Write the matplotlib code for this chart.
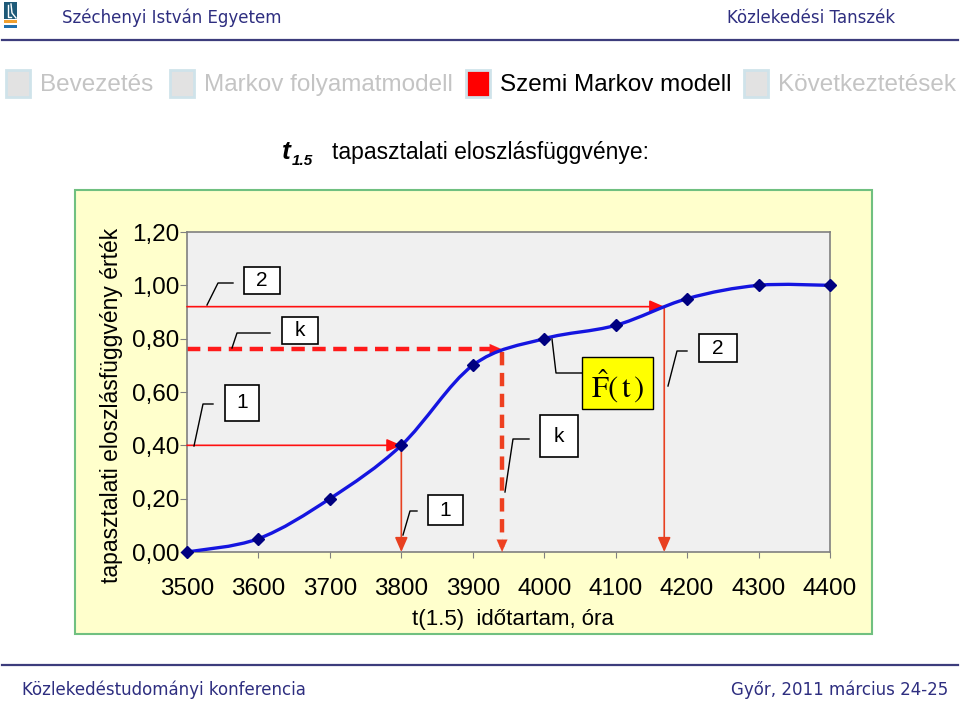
import numpy as np
import matplotlib.pyplot as plt
from matplotlib.patches import Rectangle, PathPatch
from matplotlib.path import Path
from matplotlib.lines import Line2D

# empirical distribution of t(1.5)
hours = [3500, 3600, 3700, 3800, 3900, 4000, 4100, 4200, 4300, 4400]
cdf = [0.00, 0.05, 0.20, 0.40, 0.70, 0.80, 0.85, 0.95, 1.00, 1.00]

# guide lines: (level, time)
guide_1 = (0.40, 3800)
guide_k = (0.76, 3941)
guide_2 = (0.92, 4168)

y_ticks = [0.0, 0.2, 0.4, 0.6, 0.8, 1.0, 1.2]
y_tick_labels = ['0,00', '0,20', '0,40', '0,60', '0,80', '1,00', '1,20']
x_ticks = [3500, 3600, 3700, 3800, 3900, 4000, 4100, 4200, 4300, 4400]

nav_items = ['Bevezetés', 'Markov folyamatmodell', 'Szemi Markov modell', 'Következtetések']
nav_active = 2

W, H = 960, 706
SANS = 'Liberation Sans'
HEAD = 'DejaVu Sans'
NAVY = '#2E2E80'


def fx(px):
    return px / W


def fy(py):
    return 1 - py / H


def smooth_path(xs, ys):
    """Bezier path through the points, like Excel's smoothed line."""
    pts = np.column_stack([xs, ys]).astype(float)
    verts = [pts[0]]
    codes = [Path.MOVETO]
    n = len(pts)
    for i in range(n - 1):
        p0 = pts[max(i - 1, 0)]
        p1 = pts[i]
        p2 = pts[i + 1]
        p3 = pts[min(i + 2, n - 1)]
        verts += [p1 + (p2 - p0) / 6, p2 - (p3 - p1) / 6, p2]
        codes += [Path.CURVE4] * 3
    return Path(verts, codes)


fig = plt.figure(figsize=(W / 100, H / 100), dpi=100)

# ---- header ----
fig.add_artist(Rectangle((fx(4), fy(19)), 13 / W, 17 / H, transform=fig.transFigure,
                         facecolor='#1F5A78', edgecolor='none'))
fig.add_artist(Line2D([fx(8), fx(8), fx(11)], [fy(5), fy(17), fy(17)], transform=fig.transFigure,
                      color='white', lw=1))
fig.add_artist(Line2D([fx(11), fx(12), fx(16)], [fy(4), fy(13), fy(18)], transform=fig.transFigure,
                      color='white', lw=1))
fig.add_artist(Rectangle((fx(4), fy(22.5)), 13 / W, 2 / H, transform=fig.transFigure,
                         facecolor='#F0A030', edgecolor='none'))
fig.add_artist(Rectangle((fx(4), fy(28)), 13 / W, 3 / H, transform=fig.transFigure,
                         facecolor='#2070B0', edgecolor='none'))

fig.text(fx(62), fy(18), 'Széchenyi István Egyetem', family=HEAD, fontsize=12,
         color=NAVY, va='center', ha='left')
fig.text(fx(895), fy(18), 'Közlekedési Tanszék', family=HEAD, fontsize=12,
         color=NAVY, va='center', ha='right')
fig.add_artist(Line2D([fx(2), fx(958)], [fy(40), fy(40)], transform=fig.transFigure,
                      color='#3C3C7C', lw=1.6))

# ---- navigation ----
nav_sq = [6, 170, 466, 744]
for i, (label, sx) in enumerate(zip(nav_items, nav_sq)):
    active = i == nav_active
    fig.add_artist(Rectangle((fx(sx), fy(97)), 24 / W, 27 / H, transform=fig.transFigure,
                             facecolor='#FF0000' if active else '#E2E2E2',
                             edgecolor='#CFE3EA', lw=2))
    fig.text(fx(sx + 34), fy(85), label, family=SANS, fontsize=17.5,
             color='black' if active else '#C4C4C4', va='center', ha='left')

# ---- title ----
fig.text(fx(282), fy(152), 't', family=SANS, fontsize=19, weight='bold', style='italic',
         va='center', ha='left')
fig.text(fx(292), fy(161), '1.5', family=SANS, fontsize=11, weight='bold', style='italic',
         va='center', ha='left')
fig.text(fx(332), fy(153), 'tapasztalati eloszlásfüggvénye:', family=SANS, fontsize=16.5,
         va='center', ha='left')

# ---- chart area ----
fig.add_artist(Rectangle((fx(75), fy(634)), 797 / W, 444 / H, transform=fig.transFigure,
                         facecolor='#FFFFCC', edgecolor='#70C080', lw=1.5, zorder=0))

ax = fig.add_axes([fx(187), fy(552), 643 / W, 320 / H])
ax.set_facecolor('#F0F0F0')
for s in ax.spines.values():
    s.set_color('#808080')
    s.set_linewidth(1.2)
ax.set_xlim(3500, 4400)
ax.set_ylim(0, 1.2)
ax.set_xticks(x_ticks)
ax.set_xticklabels([str(v) for v in x_ticks], family=SANS, fontsize=17.5)
ax.set_yticks(y_ticks)
ax.set_yticklabels(y_tick_labels, family=SANS, fontsize=17.5)
ax.tick_params(axis='x', length=4, color='#808080', pad=15)
ax.tick_params(axis='y', length=5, color='#808080', pad=0.5)

fig.text(fx(112), fy(405), 'tapasztalati eloszlásfüggvény érték', family=SANS, fontsize=16.5,
         rotation=90, va='center', ha='center')
fig.text(fx(513), fy(620), 't(1.5)  időtartam, óra', family=SANS, fontsize=16,
         va='center', ha='center')

# red guide lines
arrow = dict(arrowstyle='-|>,head_length=0.8,head_width=0.35', shrinkA=0, shrinkB=0,
             mutation_scale=11)
for level, t in [guide_1, guide_2]:
    ax.annotate('', xy=(t, level), xytext=(3500, level),
                arrowprops=dict(color='#FF1010', lw=1.2, **arrow))
    ax.annotate('', xy=(t, 0), xytext=(t, level),
                arrowprops=dict(color='#E84020', lw=1.2, **arrow))

lvl, tk = guide_k
ax.plot([3500, tk - 12], [lvl, lvl], color='#FF1A1A', lw=3.2, dashes=(3, 1.7))
ax.plot([tk, tk], [lvl - 0.01, 0.02], color='#EE4020', lw=3.2, dashes=(3, 1.7))
ax.annotate('', xy=(tk, lvl), xytext=(tk - 20, lvl),
            arrowprops=dict(color='#FF1A1A', lw=0.1, **arrow))
ax.annotate('', xy=(tk, 0), xytext=(tk, 0.05),
            arrowprops=dict(color='#EE4020', lw=0.1, **arrow))

# the empirical curve
ax.add_patch(PathPatch(smooth_path(hours, cdf), fill=False, edgecolor='#1515E0', lw=2.4,
                       zorder=4, capstyle='round'))
ax.plot(hours, cdf, ls='none', marker='D', ms=6.5, color='#000080', zorder=5, clip_on=False)

# ---- callouts (figure pixel positions) ----
callouts = [
    ('2', (244, 267, 280, 294), [(207, 305), (218, 283), (233, 283)]),
    ('k', (282, 317, 318, 344), [(232, 348), (237, 333), (270, 333)]),
    ('1', (225, 385, 259, 421), [(194, 446), (203, 404), (213, 404)]),
    ('1', (428, 495, 463, 525), [(403, 535), (410, 511), (417, 511)]),
    ('k', (540, 415, 578, 457), [(505, 492), (513, 439), (529, 439)]),
    ('2', (699, 334, 737, 362), [(668, 386), (677, 351), (687, 351)]),
]
for label, (x0, y0, x1, y1), leader in callouts:
    fig.add_artist(Rectangle((fx(x0), fy(y1)), (x1 - x0) / W, (y1 - y0) / H,
                             transform=fig.transFigure, facecolor='white',
                             edgecolor='black', lw=1.2, zorder=6))
    fig.text(fx((x0 + x1) / 2), fy((y0 + y1) / 2), label, family=SANS, fontsize=15,
             va='center', ha='center', zorder=7)
    fig.add_artist(Line2D([fx(p[0]) for p in leader], [fy(p[1]) for p in leader],
                          transform=fig.transFigure, color='black', lw=1, zorder=6))

fig.add_artist(Rectangle((fx(582), fy(409)), 71 / W, 52 / H, transform=fig.transFigure,
                         facecolor='#FFFF00', edgecolor='black', lw=1, zorder=6))
fig.text(fx(618), fy(386), r'$\hat{\mathrm{F}}(\,\mathrm{t}\,)$', fontsize=22,
         math_fontfamily='stix', va='center', ha='center', zorder=7)
fig.add_artist(Line2D([fx(552), fx(556), fx(582)], [fy(339), fy(373), fy(373)],
                      transform=fig.transFigure, color='black', lw=1, zorder=6))

# ---- footer ----
fig.add_artist(Line2D([fx(2), fx(958)], [fy(665), fy(665)], transform=fig.transFigure,
                      color='#3C3C7C', lw=1.6))
fig.text(fx(22), fy(690), 'Közlekedéstudományi konferencia', family=HEAD, fontsize=12,
         color=NAVY, va='center', ha='left')
fig.text(fx(948), fy(690), 'Győr, 2011 március 24-25', family=HEAD, fontsize=12,
         color=NAVY, va='center', ha='right')

fig.savefig('out.png', dpi=100)
